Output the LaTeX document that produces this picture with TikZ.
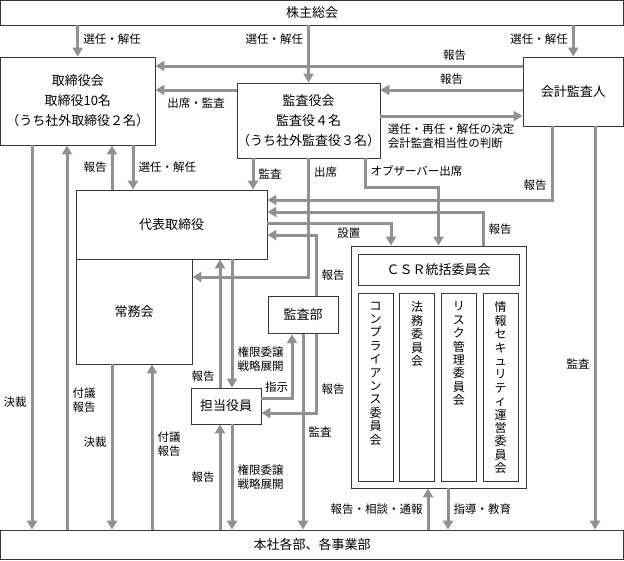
\documentclass[tikz,border=0pt]{standalone}
\usepackage{fontspec}
\newfontfamily\jpfont{Noto Sans CJK JP}
\usetikzlibrary{arrows.meta,positioning}
\definecolor{flowgray}{RGB}{145,145,145}
\definecolor{edgegray}{RGB}{55,55,55}

\begin{document}
\begin{tikzpicture}[x=1pt,y=-1pt,
	>={Triangle[length=9pt,width=10pt]},
	box/.style={draw=edgegray, line width=0.8pt, fill=white, inner sep=0pt, align=center, font=\jpfont\fontsize{13}{20}\selectfont},
	flow/.style={draw=flowgray, line width=3pt, ->},
	lab/.style={font=\jpfont\fontsize{11.5}{14}\selectfont, inner sep=4pt, align=left},
	vtext/.style={font=\jpfont\fontsize{12}{13.4}\selectfont, align=center, inner sep=0pt}]
	\useasboundingbox (0,0) rectangle (624,560);

	% boxes
	\node[box, minimum width=623pt, minimum height=24.5pt] (soukai) at (312,12.75) {株主総会};
	\node[box, minimum width=154.5pt, minimum height=88pt] (torishimari) at (77.75,101) {取締役会\\取締役10名\\（うち社外取締役２名）};
	\node[box, minimum width=143pt, minimum height=75pt] (kansayaku) at (308.5,120.5) {監査役会\\監査役４名\\（うち社外監査役３名）};
	\node[box, minimum width=100.5pt, minimum height=69pt] (kaikei) at (573.25,91.5) {会計監査人};
	\node[box, minimum width=191pt, minimum height=69pt] (daihyo) at (171.5,224.5) {代表取締役};
	\node[box, minimum width=116pt, minimum height=105pt] (jomu) at (134,311.5) {常務会};
	\node[box, minimum width=70pt, minimum height=37.5pt] (kansabu) at (303,315) {監査部};
	\node[box, minimum width=70pt, minimum height=36pt] (tanto) at (226,406) {担当役員};
	\node[box, minimum width=623pt, minimum height=29.5pt] (honsha) at (312,544.75) {本社各部、各事業部};

	% CSR
	\node[box, minimum width=175pt, minimum height=242pt] (csr) at (438.5,367) {};
	\node[box, minimum width=161pt, minimum height=31pt] (csrtop) at (438.5,270) {ＣＳＲ統括委員会};
	\node[box, minimum width=35pt, minimum height=188pt] (comp) at (375.5,387) {};
	\node[box, minimum width=35pt, minimum height=188pt] (houmu) at (417.2,387) {};
	\node[box, minimum width=35pt, minimum height=188pt] (risk) at (458.8,387) {};
	\node[box, minimum width=35pt, minimum height=188pt] (joho) at (500.5,387) {};
	\node[vtext, below=9pt of comp.north] (comptext) {コ\\ン\\プ\\ラ\\イ\\ア\\ン\\ス\\委\\員\\会};
	\node[vtext, below=9pt of houmu.north] (houmutext) {法\\務\\委\\員\\会};
	\node[vtext, below=9pt of risk.north] (risktext) {リ\\ス\\ク\\管\\理\\委\\員\\会};
	\node[vtext, below=9pt of joho.north] (johotext) {情\\報\\セ\\キ\\ュ\\リ\\テ\\ィ\\運\\営\\委\\員\\会};

	% from shareholders
	\draw[flow] (soukai.south -| torishimari.north) -- node[lab, right, pos=0.45] {選任・解任} (torishimari.north);
	\draw[flow] (soukai.south -| kansayaku.north) -- node[lab, left, pos=0.24] {選任・解任} (kansayaku.north);
	\draw[flow] (soukai.south -| kaikei.north) -- node[lab, left, pos=0.45] {選任・解任} (kaikei.north);

	% auditor lines
	\draw[flow] (kaikei.west |- 0,66) -- node[lab, above, pos=0.185] {報告} (torishimari.east |- 0,66);
	\draw[flow] (kaikei.west |- 0,90) -- node[lab, above] {報告} (kansayaku.east |- 0,90);
	\draw[flow] (kansayaku.east |- 0,116) -- node[lab, below right, pos=0, inner sep=6pt] {選任・再任・解任の決定\\会計監査相当性の判断} (kaikei.west |- 0,116);
	\draw[flow] (kansayaku.west |- 0,90) -- node[lab, below, yshift=-2pt] {出席・監査} (torishimari.east |- 0,90);

	% board and representative director
	\draw[flow] (daihyo.north -| 112,0) -- node[lab, left] {報告} (torishimari.south -| 112,0);
	\draw[flow] (torishimari.south -| 133,0) -- node[lab, right] {選任・解任} (daihyo.north -| 133,0);
	\draw[flow] (kansayaku.south -| 253,0) -- node[lab, right] {監査} (daihyo.north -| 253,0);
	\draw[flow] (kansayaku.south) |- node[lab, right, pos=0.06] {出席} (jomu.east |- 0,277);
	\draw[flow] (kansayaku.south -| 365,0) -- node[lab, right, pos=0.45] {オブザーバー出席} (365,187) -| (csr.north);

	% into the representative director
	\draw[flow] (kaikei.south -| 552,0) |- node[lab, left, pos=0.4] {報告} (daihyo.east |- 0,200);
	\draw[flow] (csr.north -| 483,0) |- node[lab, right, pos=0.25] {報告} (daihyo.east |- 0,212);
	\draw[flow] (daihyo.east |- 0,223) -| node[lab, below, pos=0.33] {設置} (csr.north -| 391,0);
	\draw[flow] (kansabu.north -| 316,0) |- node[lab, right, pos=0.17] {報告} (daihyo.east |- 0,235);

	% officers in charge
	\draw[flow] (tanto.north -| 220,0) -- node[lab, left, pos=0.09] {報告} (daihyo.south -| 220,0);
	\draw[flow] (daihyo.south -| 232,0) -- node[lab, right, pos=0.775] {権限委譲\\戦略展開} (tanto.north -| 232,0);
	\draw[flow] (honsha.north -| 220,0) -- node[lab, left] {報告} (tanto.south -| 220,0);
	\draw[flow] (tanto.south -| 232,0) -- node[lab, right] {権限委譲\\戦略展開} (honsha.north -| 232,0);
	\draw[flow] (tanto.east |- 0,398) -| node[lab, above, pos=0.25] {指示} (kansabu.south -| 292,0);
	\draw[flow] (kansabu.south -| 316,0) |- node[lab, right, pos=0.35] {報告} (tanto.east |- 0,413);
	\draw[flow] (kansabu.south) -- node[lab, right] {監査} (honsha.north -| kansabu.south);

	% left side
	\draw[flow] (torishimari.south -| 32,0) -- node[lab, left, pos=0.667] {決裁} (honsha.north -| 32,0);
	\draw[flow] (honsha.north -| 67,0) -- node[lab, right, pos=0.338] {付議\\報告} (torishimari.south -| 67,0);
	\draw[flow] (jomu.south -| 112,0) -- node[lab, left, pos=0.47] {決裁} (honsha.north -| 112,0);
	\draw[flow] (honsha.north -| 152,0) -- node[lab, right, pos=0.52] {付議\\報告} (jomu.south -| 152,0);

	% right side and CSR
	\draw[flow] (kaikei.south -| 595,0) -- node[lab, left, pos=0.59] {監査} (honsha.north -| 595,0);
	\draw[flow] (honsha.north -| 428,0) -- node[lab, left] {報告・相談・通報} (csr.south -| 428,0);
	\draw[flow] (csr.south -| 448,0) -- node[lab, right] {指導・教育} (honsha.north -| 448,0);
\end{tikzpicture}
\end{document}
